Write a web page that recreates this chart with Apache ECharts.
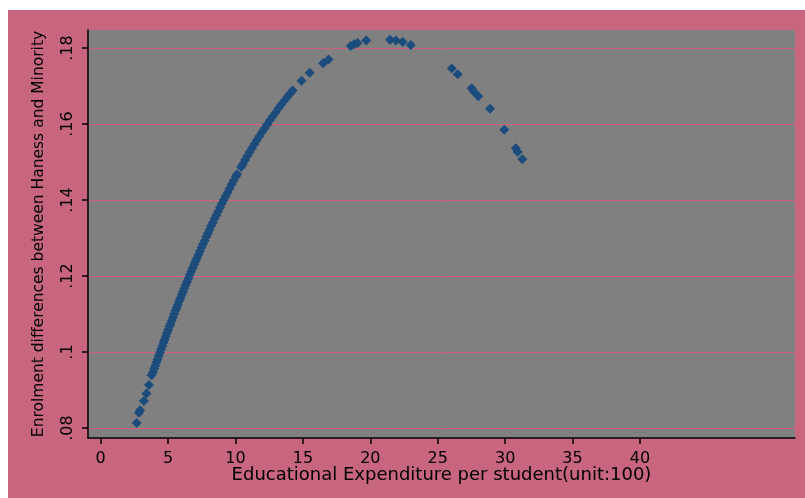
<!DOCTYPE html>
<html>
<head>
<meta charset="utf-8">
<script src="https://cdn.jsdelivr.net/npm/echarts@6/dist/echarts.min.js"></script>
<style>
  html, body { margin: 0; padding: 0; background: #ffffff; }
  #chart { position: absolute; left: 8px; top: 10px; width: 797px; height: 488px; }
</style>
</head>
<body>
<div id="chart"></div>
<script>
// Educational expenditure per student (unit: 100)
const expenditure = [
  2.67, 2.84, 2.92, 3.21, 3.40, 3.58, 3.78,
  3.88, 3.97, 4.05, 4.14, 4.22, 4.31, 4.40, 4.48, 4.57, 4.66, 4.74, 4.83, 4.92, 5.01,
  5.10, 5.18, 5.27, 5.36, 5.45, 5.55, 5.64, 5.73, 5.83, 5.92, 6.02, 6.11, 6.21, 6.31,
  6.41, 6.51, 6.61, 6.72, 6.82, 6.93, 7.03, 7.14, 7.25, 7.36, 7.48, 7.59, 7.71, 7.83,
  7.95, 8.07, 8.20, 8.32, 8.45, 8.58, 8.71, 8.85, 8.98, 9.12, 9.27, 9.41, 9.56, 9.71,
  9.87, 10.03, 10.12,
  10.42, 10.55, 10.71, 10.88, 11.05, 11.22, 11.40, 11.58, 11.77, 11.96, 12.15, 12.35,
  12.55, 12.76, 12.97, 13.18, 13.40, 13.62, 13.84, 14.06, 14.24,
  14.90, 15.50, 16.50, 16.90,
  18.55, 18.80, 19.05, 19.70, 21.46, 21.90, 22.40, 23.00,
  26.04, 26.48, 27.52, 27.69, 28.01, 28.88, 29.94, 30.79, 30.93, 31.28
];

// Enrolment differences between Haness and Minority
const enrolmentGap = [
  0.0813, 0.0840, 0.0847, 0.0871, 0.0891, 0.0913, 0.0939,
  0.0947, 0.0956, 0.0964, 0.0973, 0.0981, 0.0990, 0.0999, 0.1007, 0.1016, 0.1025, 0.1032, 0.1041, 0.1050, 0.1058,
  0.1067, 0.1074, 0.1083, 0.1091, 0.1100, 0.1109, 0.1117, 0.1125, 0.1134, 0.1142, 0.1151, 0.1159, 0.1168, 0.1177,
  0.1185, 0.1194, 0.1203, 0.1212, 0.1221, 0.1230, 0.1238, 0.1247, 0.1256, 0.1265, 0.1275, 0.1284, 0.1293, 0.1303,
  0.1312, 0.1322, 0.1332, 0.1341, 0.1351, 0.1360, 0.1370, 0.1380, 0.1390, 0.1400, 0.1410, 0.1420, 0.1430, 0.1441,
  0.1451, 0.1462, 0.1468,
  0.1487, 0.1495, 0.1505, 0.1516, 0.1526, 0.1536, 0.1547, 0.1557, 0.1568, 0.1578, 0.1588, 0.1599,
  0.1610, 0.1620, 0.1630, 0.1641, 0.1651, 0.1661, 0.1671, 0.1680, 0.1688,
  0.1714, 0.1735, 0.1760, 0.1770,
  0.1805, 0.1810, 0.1813, 0.1820, 0.1822, 0.1820, 0.1816, 0.1808,
  0.1746, 0.1731, 0.1694, 0.1685, 0.1673, 0.1640, 0.1585, 0.1536, 0.1526, 0.1507
];

const xTicks = [0, 5, 10, 15, 20, 25, 30, 35, 40];
const yTicks = [0.08, 0.10, 0.12, 0.14, 0.16, 0.18];
const yTickLabels = ['.08', '.1', '.12', '.14', '.16', '.18'];

const xTitle = 'Educational Expenditure per student(unit:100)';
const yTitle = 'Enrolment differences between Haness and Minority';

const points = expenditure.map((x, i) => [x, enrolmentGap[i]]);

const FONT = 'DejaVu Sans';

const chart = echarts.init(document.getElementById('chart'), null, { renderer: 'canvas' });

chart.setOption({
  animation: false,
  backgroundColor: '#c86680',
  grid: {
    left: 80, top: 20, right: 10, bottom: 60,
    show: true,
    backgroundColor: '#808080',
    borderWidth: 0
  },
  xAxis: {
    type: 'value',
    min: -0.94,
    max: 51.5,
    name: xTitle,
    nameLocation: 'middle',
    nameMoveOverlap: false,
    nameGap: 28,
    nameTextStyle: { fontFamily: FONT, fontSize: 18, color: '#000', verticalAlign: 'top' },
    axisLine: { show: true, onZero: false, lineStyle: { color: '#000', width: 1.5 } },
    axisTick: { show: true, length: 6, customValues: xTicks, lineStyle: { color: '#000', width: 1.5 } },
    axisLabel: {
      customValues: xTicks,
      margin: 13,
      fontFamily: FONT, fontSize: 16, color: '#000'
    },
    splitLine: { show: false }
  },
  yAxis: {
    type: 'value',
    // range chosen so each .02 step lands on a whole pixel row
    min: 0.0773684,
    max: 0.1847368,
    name: yTitle,
    nameLocation: 'middle',
    nameMoveOverlap: false,
    nameGap: 41,
    nameRotate: 90,
    nameTextStyle: { fontFamily: FONT, fontSize: 15.5, color: '#000' },
    axisLine: { show: true, onZero: false, lineStyle: { color: '#000', width: 1.5 } },
    axisTick: { show: true, length: 6, customValues: yTicks, lineStyle: { color: '#000', width: 1.5 } },
    axisLabel: {
      customValues: yTicks,
      rotate: 90,
      margin: 12,
      fontFamily: FONT, fontSize: 16, color: '#000',
      formatter: (v) => {
        const i = yTicks.findIndex(t => Math.abs(t - v) < 1e-9);
        return i >= 0 ? yTickLabels[i] : '';
      }
    },
    splitLine: { show: true, lineStyle: { color: '#d4607e', width: 1 } }
  },
  series: [{
    type: 'scatter',
    data: points,
    symbol: 'diamond',
    symbolSize: 10,
    itemStyle: { color: '#1b4c7c', opacity: 1 },
    z: 5
  }]
});
</script>
</body>
</html>
